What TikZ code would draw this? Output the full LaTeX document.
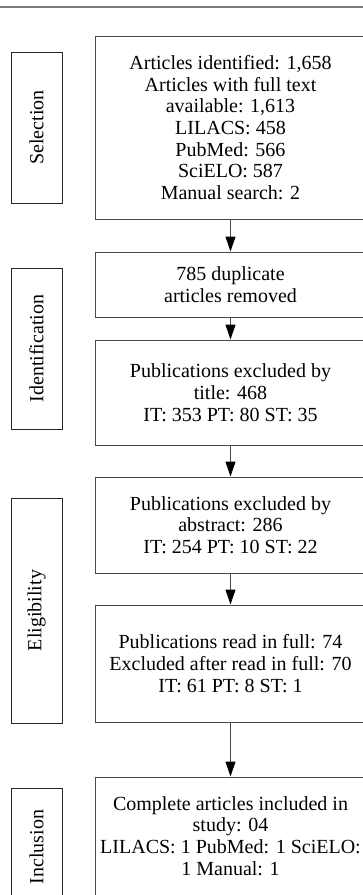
\documentclass[tikz,border=0pt]{standalone}
\usepackage{fontspec}
\setmainfont{Liberation Serif}
\usetikzlibrary{arrows.meta}
\definecolor{boxline}{HTML}{4A4A4A}
\definecolor{topline}{HTML}{7A7A7A}
\tikzset{
  mainbox/.style={draw=boxline, line width=1pt, minimum width=271pt, align=center, inner sep=0pt, font=\fontsize{20}{21.7}\selectfont},
  sidebox/.style={draw=black!85, line width=1pt, minimum width=51pt, inner sep=0pt},
  sidelabel/.style={rotate=90, inner sep=0pt, font=\fontsize{20}{22}\selectfont},
  flow/.style={draw=boxline, line width=1pt, -{Triangle[width=10pt,length=15pt,fill=black,color=black]}}
}
\begin{document}
\begin{tikzpicture}[x=1pt,y=-1pt]
\useasboundingbox (0,0) rectangle (363,895);
\clip (0,0) rectangle (363,895);
\draw[topline, line width=2pt] (0,7) -- (363,7);

% main boxes
\node[mainbox, minimum height=183pt] (b1) at (230.5,127.5) {Articles identified: 1,658\\Articles with full text\\available: 1,613\\LILACS: 458\\PubMed: 566\\SciELO: 587\\Manual search: 2};
\node[mainbox, minimum height=65pt] (b2) at (230.5,284.5) {785 duplicate\\articles removed};
\node[mainbox, minimum height=105pt] (b3) at (230.5,392.5) {Publications excluded by\\title: 468\\IT: 353 PT: 80 ST: 35};
\node[mainbox, minimum height=96pt] (b4) at (230.5,525) {Publications excluded by\\abstract: 286\\IT: 254 PT: 10 ST: 22};
\node[mainbox, minimum height=117pt] (b5) at (230.5,663.5) {Publications read in full: 74\\Excluded after read in full: 70\\IT: 61 PT: 8 ST: 1};
\node[mainbox, minimum height=118pt] (b6) at (230.5,836) {Complete articles included in\\study: 04\\LILACS: 1 PubMed: 1 SciELO:\\1 Manual: 1};

% side boxes
\node[sidebox, minimum height=151pt] (s1) at (36.5,127.5) {};
\node[sidelabel] (l1) at (s1.center) {Selection};
\node[sidebox, minimum height=161pt] (s2) at (36.5,348.5) {};
\node[sidelabel] (l2) at (s2.center) {Identification};
\node[sidebox, minimum height=225pt] (s3) at (36.5,610.5) {};
\node[sidelabel] (l3) at (s3.center) {Eligibility};
\node[sidebox, minimum height=118pt] (s4) at (36.5,847) {};
\node[sidelabel] (l4) at (s4.center) {Inclusion};

% arrows
\draw[flow] (b1) -- (b2);
\draw[flow] (b2) -- (b3);
\draw[flow] (b3) -- (b4);
\draw[flow] (b4) -- (b5);
\draw[flow] (b5) -- (b6);
\end{tikzpicture}
\end{document}
